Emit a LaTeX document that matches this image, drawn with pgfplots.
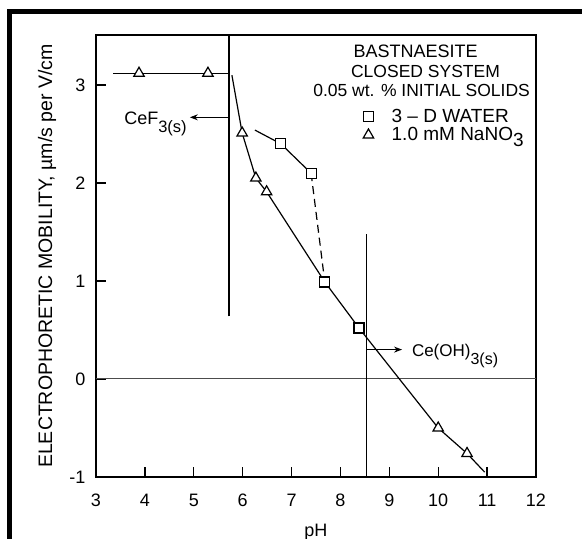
\documentclass[border=0pt]{standalone}
\usepackage{pgfplots}
\pgfplotsset{compat=1.18}
\usetikzlibrary{arrows.meta}
\usepackage{fontspec}
\setmainfont{Liberation Sans}
\newcommand{\fs}[1]{\fontsize{#1}{#1}\selectfont}
\begin{document}
\begin{tikzpicture}
\useasboundingbox (-96pt,-62pt) rectangle (486pt,477pt);
\draw[line width=5pt] (-86pt,-90pt) -- (-86pt,465pt) -- (500pt,465pt);
\begin{axis}[
  at={(0pt,0pt)}, anchor=south west,
  scale only axis, width=440pt, height=442pt,
  xmin=3, xmax=12, ymin=-1, ymax=3.51,
  axis line style={line width=2pt},
  xtick={3,4,5,6,7,8,9,10,11,12},
  xticklabels={3,4,5,6,7,8,9,10,11,12},
  ytick={-1,0,1,2,3},
  yticklabels={-1,0,1,2,3},
  tick pos=left,
  tick align=inside,
  major tick length=10pt,
  tick style={line width=1.3pt, black},
  ticklabel style={font=\fs{18}},
  xticklabel style={anchor=base, yshift=-29.5pt},
  yticklabel style={anchor=east, xshift=-7pt},
  xlabel={pH},
  ylabel={ELECTROPHORETIC MOBILITY, µm/s per V/cm},
  every axis x label/.style={at={(axis description cs:0.5,0)}, yshift=-59pt, anchor=base, font=\fs{18}},
  every axis y label/.style={at={(axis description cs:0,0.5)}, xshift=-49pt, anchor=center, rotate=90, font=\fs{19.5}},
  legend style={draw=none, fill=none, at={(axis description cs:0.607,0.838)}, anchor=north west,
     font=\fs{19}, row sep=0pt, inner sep=0pt},
  legend cell align=left,
  clip=false,
]
% reference lines
\addplot[forget plot, gray!60!black, line width=1pt] coordinates {(3,0) (12,0)};
\addplot[forget plot, black, line width=1.8pt] coordinates {(5.72,0.64) (5.72,3.51)};
\addplot[forget plot, black, line width=1.2pt] coordinates {(8.54,-1) (8.54,1.48)};
% arrows
\addplot[forget plot, black, line width=1.1pt, -{Stealth[length=8pt,width=6pt]}] coordinates {(5.72,2.67) (4.92,2.67)};
\addplot[forget plot, black, line width=1.1pt, -{Stealth[length=8pt,width=6pt]}] coordinates {(8.54,0.30) (9.26,0.30)};
% data lines
\addplot[forget plot, black, line width=1.2pt] coordinates {(3.35,3.12) (3.88,3.12) (5.29,3.12) (5.70,3.12)};
\addplot[forget plot, black, line width=1.2pt] coordinates {(5.78,3.10) (5.99,2.51) (6.27,2.05) (6.49,1.91) (7.68,0.99) (8.38,0.52) (10.0,-0.50) (10.59,-0.76) (10.95,-0.95)};
\addplot[forget plot, black, line width=1.2pt] coordinates {(6.25,2.54) (6.78,2.40) (7.40,2.10)};
\addplot[forget plot, black, line width=1.2pt, dash pattern=on 8pt off 5pt] coordinates {(7.40,2.10) (7.68,0.99)};
% markers
\addplot[only marks, mark=square*, mark size=5pt, mark options={fill=white, draw=black, line width=1.2pt}] coordinates {(6.78,2.40) (7.40,2.10) (7.68,0.99) (8.38,0.52)};
\addlegendentry{\hspace{16pt}3 – D WATER}
\addplot[only marks, mark=triangle*, mark size=6pt, mark options={fill=white, draw=black, line width=1.2pt}] coordinates {(3.88,3.12) (5.29,3.12) (5.99,2.51) (6.27,2.05) (6.49,1.91) (10.0,-0.50) (10.59,-0.76)};
\addlegendentry{\hspace{16pt}1.0 mM NaNO\raisebox{-0.3em}{3}}
% annotations
\node[anchor=base east, inner sep=0pt] at (axis cs:4.86,2.60) {\fs{18}CeF\raisebox{-0.45em}{\fs{16.5}3(s)}};
\node[anchor=base west, inner sep=0pt] at (axis cs:9.46,0.225) {\fs{17}Ce(OH)\raisebox{-0.45em}{\fs{16}3(s)}};
\node[inner sep=0pt, anchor=center] at (axis cs:9.54,3.34) {\fs{18}BASTNAESITE};
\node[inner sep=0pt, anchor=center] at (axis cs:9.74,3.14) {\fs{17.5}CLOSED SYSTEM};
\node[inner sep=0pt, anchor=center] at (axis cs:9.66,2.94) {\fs{17.5}0.05 wt. \% INITIAL SOLIDS};
\end{axis}
\end{tikzpicture}
\end{document}
